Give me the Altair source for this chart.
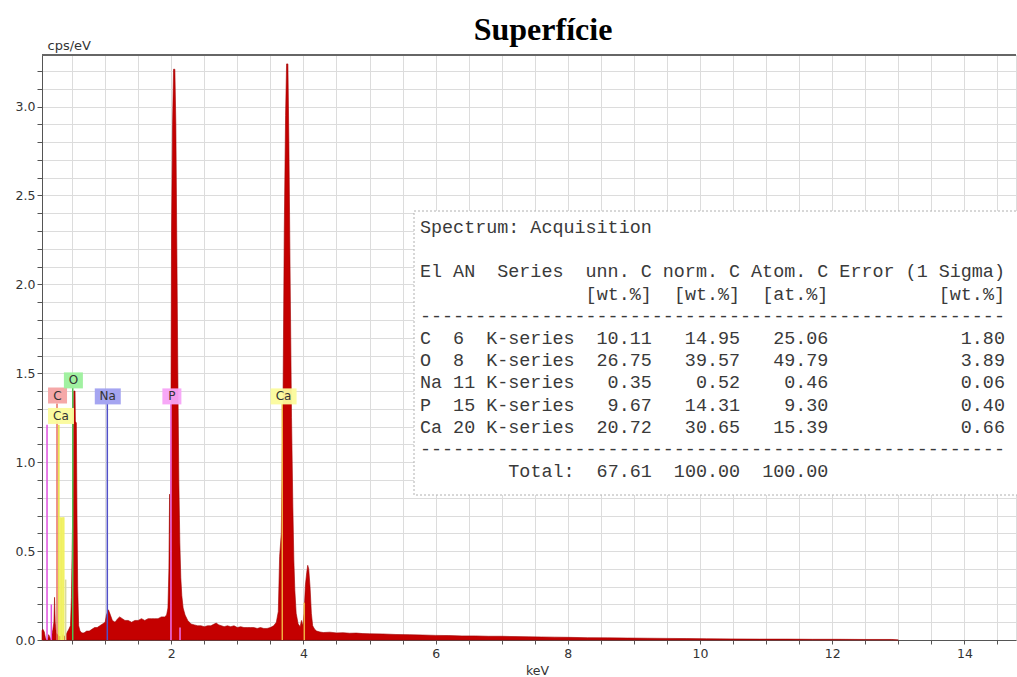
import altair as alt
import pandas as pd

# EDS spectrum: energy (keV) and intensity (cps/eV)
kev = [0.045, 0.06, 0.08, 0.095, 0.11, 0.13, 0.145, 0.16, 0.175, 0.19,
       0.21, 0.225, 0.235, 0.245, 0.26, 0.28, 0.30, 0.33, 0.36, 0.39,
       0.42, 0.45, 0.475, 0.49, 0.505, 0.515, 0.525, 0.545, 0.55, 0.565,
       0.575, 0.585, 0.60, 0.62, 0.65, 0.68, 0.72, 0.76, 0.80, 0.84,
       0.88, 0.92, 0.96, 1.00, 1.02, 1.05, 1.08, 1.11, 1.15, 1.19,
       1.22, 1.26, 1.30, 1.35, 1.40, 1.45, 1.50, 1.55, 1.60, 1.65,
       1.70, 1.75, 1.80, 1.85, 1.90, 1.93, 1.95, 1.965, 1.975, 1.985,
       1.995, 2.005, 2.02, 2.035, 2.055, 2.07, 2.085, 2.10, 2.115, 2.13,
       2.145, 2.16, 2.18, 2.21, 2.25, 2.30, 2.35, 2.40, 2.45, 2.50,
       2.55, 2.60, 2.65, 2.68, 2.72, 2.76, 2.80, 2.85, 2.90, 2.95,
       3.00, 3.05, 3.10, 3.15, 3.20, 3.25, 3.30, 3.35, 3.40, 3.45,
       3.50, 3.55, 3.59, 3.62, 3.64, 3.665, 3.69, 3.71, 3.73, 3.745,
       3.765, 3.78, 3.80, 3.82, 3.84, 3.855, 3.87, 3.89, 3.92, 3.95,
       3.97, 3.99, 4.01, 4.03, 4.05, 4.065, 4.08, 4.10, 4.12, 4.14,
       4.17, 4.20, 4.25, 4.30, 4.4, 4.5, 4.6, 4.7, 4.8, 4.9,
       5.0, 5.2, 5.4, 5.6, 5.8, 6.0, 6.2, 6.4, 6.6, 6.8,
       7.0, 7.2, 7.4, 7.6, 7.8, 8.0, 8.3, 8.6, 8.9, 9.2,
       9.5, 9.8, 10.1, 10.5, 10.9, 11.3, 11.7, 12.1, 12.5, 12.9,
       13.0]
cps = [0.055, 0.06, 0.045, 0.015, 0.0, 0.0, 0.03, 0.02, 0.0, 0.02,
       0.06, 0.10, 0.24, 0.10, 0.04, 0.03, 0.02, 0.02, 0.03, 0.02,
       0.04, 0.06, 0.08, 0.24, 0.61, 0.80, 1.40, 1.40, 1.23, 1.22,
       0.68, 0.30, 0.08, 0.05, 0.04, 0.04, 0.05, 0.05, 0.06, 0.07,
       0.07, 0.08, 0.09, 0.10, 0.14, 0.17, 0.14, 0.11, 0.10, 0.12,
       0.13, 0.12, 0.11, 0.11, 0.10, 0.11, 0.11, 0.12, 0.11, 0.12,
       0.12, 0.12, 0.12, 0.13, 0.13, 0.14, 0.18, 0.40, 0.82, 0.60,
       1.20, 2.30, 2.90, 3.21, 3.21, 2.90, 2.20, 1.50, 0.90, 0.55,
       0.35, 0.25, 0.18, 0.14, 0.11, 0.09, 0.085, 0.08, 0.08, 0.075,
       0.08, 0.08, 0.09, 0.095, 0.085, 0.08, 0.075, 0.08, 0.075, 0.08,
       0.07, 0.075, 0.07, 0.07, 0.07, 0.07, 0.065, 0.07, 0.065, 0.065,
       0.07, 0.08, 0.10, 0.16, 0.47, 0.60, 1.30, 2.30, 2.95, 3.24,
       3.24, 2.80, 2.00, 1.25, 0.75, 0.45, 0.28, 0.15, 0.09, 0.075,
       0.11, 0.08, 0.15, 0.31, 0.38, 0.42, 0.40, 0.30, 0.15, 0.08,
       0.06, 0.05, 0.045, 0.042, 0.044, 0.040, 0.041, 0.038, 0.039, 0.036,
       0.035, 0.034, 0.031, 0.030, 0.028, 0.026, 0.025, 0.023, 0.023, 0.021,
       0.021, 0.019, 0.018, 0.017, 0.016, 0.015, 0.013, 0.012, 0.011, 0.010,
       0.009, 0.008, 0.007, 0.006, 0.005, 0.005, 0.004, 0.004, 0.003, 0.003,
       0.0]

# element marker lines: energy, height, colour
line_kev = [0.121, 0.186, 0.272, 0.30, 0.32, 0.34, 0.36, 0.375, 0.403,
            0.51, 1.033, 1.996, 2.133, 3.68, 4.013]
line_top = [1.21, 0.20, 1.33, 1.21, 0.69, 0.69, 0.69, 0.69, 0.34,
            1.42, 1.33, 1.33, 0.07, 1.33, 0.21]
line_color = ["#e050e0", "#e050e0", "#e87060", "#e8e040", "#f0f060",
              "#f0f060", "#f0f060", "#f0f060", "#d8d8a0",
              "#50c050", "#5050c8", "#f070f0", "#f070f0", "#f0b040", "#f0b040"]

# element label boxes
lab_text = ["C", "Ca", "O", "Na", "P", "Ca"]
lab_kev = [0.28, 0.332, 0.52, 1.04, 2.01, 3.70]
lab_cps = [1.375, 1.26, 1.46, 1.37, 1.37, 1.37]
lab_color = ["#f4a3a3", "#fbfb9c", "#9cf09c", "#a0a0f0", "#f7a3f7", "#fbfb9c"]

# quantification results
tab_el = ["C", "O", "Na", "P", "Ca"]
tab_an = [6, 8, 11, 15, 20]
tab_unn = [10.11, 26.75, 0.35, 9.67, 20.72]
tab_norm = [14.95, 39.57, 0.52, 14.31, 30.65]
tab_atom = [25.06, 49.79, 0.46, 9.30, 15.39]
tab_err = [1.80, 3.89, 0.06, 0.40, 0.66]
tab_total = [67.61, 100.00, 100.00]

# ---- layout ----
W, H = 974, 585
X_DOM = [0.045, 14.78]
Y_DOM = [0.0, 3.29]
px_per_kev = W / (X_DOM[1] - X_DOM[0])
px_per_cps = H / (Y_DOM[1] - Y_DOM[0])


def kev_at(px):
    """keV value at a horizontal pixel offset inside the plot."""
    return X_DOM[0] + px / px_per_kev


def cps_at(py):
    """cps/eV value at a vertical pixel offset from the plot top."""
    return Y_DOM[1] - py / px_per_cps


xs = alt.Scale(domain=X_DOM, nice=False, zero=False)
ys = alt.Scale(domain=Y_DOM, nice=False, zero=False)

spec = pd.DataFrame({"keV": kev, "cps": cps})
lines = pd.DataFrame({"keV": line_kev, "top": line_top, "color": line_color, "base": 0.0})

labels = pd.DataFrame({"el": lab_text, "keV": lab_kev, "cps": lab_cps, "color": lab_color})
half_w = labels["el"].str.len().map({1: 9.5, 2: 13.0}) / px_per_kev
half_h = 8.0 / px_per_cps
labels["x1"] = labels["keV"] - half_w
labels["x2"] = labels["keV"] + half_w
labels["y1"] = labels["cps"] - half_h
labels["y2"] = labels["cps"] + half_h

# table text lines (monospace; leading blanks become a column offset)
FONT_PX = 18.4
CHAR_W = FONT_PX * 0.6
rows = ["Spectrum: Acquisition", "",
        "El AN  Series  unn. C norm. C Atom. C Error (1 Sigma)",
        " " * 15 + "[wt.%]  [wt.%]  [at.%]" + " " * 10 + "[wt.%]",
        "-" * 53]
for el, an, u, n, a, e in zip(tab_el, tab_an, tab_unn, tab_norm, tab_atom, tab_err):
    rows.append(f"{el:<2} {an:<2} K-series{u:>7.2f}{n:>8.2f}{a:>8.2f}{e:>16.2f}")
rows.append("-" * 53)
rows.append(" " * 8 + "Total:" + f"{tab_total[0]:>7.2f}{tab_total[1]:>8.2f}{tab_total[2]:>8.2f}")
lead = [len(r) - len(r.lstrip(" ")) for r in rows]
table = pd.DataFrame({
    "line": [r.lstrip(" ").replace(" ", "\u00a0") for r in rows],
    "tx": [kev_at(378 + CHAR_W * k) for k in lead],
    "ty": [cps_at(172 + 22.2 * i) for i in range(len(rows))],
})

# white panel behind the table
panel_df = pd.DataFrame({"x1": [kev_at(372)], "x2": [kev_at(990)],
                         "y1": [cps_at(440)], "y2": [cps_at(156)]})
border_df = pd.DataFrame({"x1": [X_DOM[0]], "x2": [X_DOM[1]], "y": [Y_DOM[1]]})

x_ticks = [0.5 * i for i in range(1, 30)]
y_ticks = [round(0.1 * i, 1) for i in range(0, 33)]

x_axis = alt.Axis(
    values=x_ticks, grid=True, gridColor="#dcdcdc", gridWidth=1,
    labelExpr="abs(datum.value % 2) < 0.001 ? format(datum.value, 'd') : ''",
    labelOverlap=False, labelBound=False, labelFlush=False,
    tickSize=4, tickColor="#555", domainColor="#555", domainWidth=1,
    labelFont="DejaVu Sans", labelFontSize=12.5, labelColor="#333", labelPadding=3,
    title="keV", titleFont="DejaVu Sans", titleFontSize=12.5, titleFontWeight="normal",
    titleColor="#333", titleX=495, titleY=30, titleBaseline="middle")
y_axis = alt.Axis(
    values=y_ticks, grid=True, gridColor="#dcdcdc", gridWidth=1,
    labelExpr="abs(datum.value * 2 - round(datum.value * 2)) < 0.001 ? format(datum.value, '.1f') : ''",
    labelOverlap=False, labelBound=False, labelFlush=False,
    tickSize=5, tickColor="#555", domainColor="#555", domainWidth=1,
    labelFont="DejaVu Sans", labelFontSize=12.5, labelColor="#333", labelPadding=2,
    title="cps/eV", titleFont="DejaVu Sans", titleFontSize=13, titleFontWeight="normal",
    titleColor="#333", titleAngle=0, titleAlign="left", titleX=5, titleY=-3,
    titleBaseline="bottom")


def X(field):
    return alt.X(field, type="quantitative", scale=xs, axis=x_axis)


def Y(field):
    return alt.Y(field, type="quantitative", scale=ys, axis=y_axis)


area = alt.Chart(spec).mark_area(color="#c40000", stroke="#a00000", strokeWidth=0.6,
                                 interpolate="linear").encode(x=X("keV"), y=Y("cps"))

markers = alt.Chart(lines).mark_rule(strokeWidth=1.5).encode(
    x=X("keV"), y=Y("base"), y2="top:Q",
    color=alt.Color("color:N", scale=None),
)

boxes = alt.Chart(labels).mark_rect(opacity=0.95).encode(
    x=X("x1"), x2="x2:Q", y=Y("y1"), y2="y2:Q",
    color=alt.Color("color:N", scale=None),
)
box_text = alt.Chart(labels).mark_text(font="DejaVu Sans", fontSize=12, color="#333",
                                       baseline="middle", align="center").encode(
    x=X("keV"), y=Y("cps"), text="el:N")

top_border = alt.Chart(border_df).mark_rule(color="#666", strokeWidth=2).encode(
    x=X("x1"), x2="x2:Q", y=Y("y"))

panel = alt.Chart(panel_df).mark_rect(fill="white", stroke="#b0b0b0", strokeWidth=1,
                                      strokeDash=[2, 2]).encode(
    x=X("x1"), x2="x2:Q", y=Y("y1"), y2="y2:Q")

panel_text = alt.Chart(table).mark_text(font="Liberation Mono", fontSize=FONT_PX, color="#3a3a3a",
                                        align="left", baseline="middle").encode(
    x=X("tx"), y=Y("ty"), text="line:N")

chart = alt.layer(area, markers, boxes, box_text, top_border, panel, panel_text).properties(
    width=W, height=H,
    title=alt.TitleParams("Superfície", font="Liberation Serif", fontSize=32,
                          fontWeight="bold", color="black", offset=-8, dx=14),
    autosize=alt.AutoSizeParams(type="none"),
    padding={"left": 42, "top": 55, "right": 1, "bottom": 37},
).configure_view(strokeWidth=0).configure(background="white")

chart.save("out.html", embed_options={"renderer": "svg", "actions": False})
